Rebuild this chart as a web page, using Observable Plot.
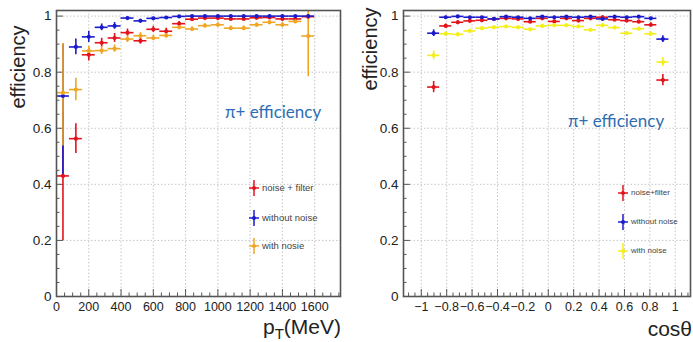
<!DOCTYPE html>
<html><head><meta charset="utf-8">
<script src="https://cdn.jsdelivr.net/npm/d3@7"></script>
<script src="https://cdn.jsdelivr.net/npm/@observablehq/plot@0.6"></script>
<style>
body{margin:0;background:#fff;}
#wrap{position:relative;width:693px;height:342px;overflow:hidden;font-family:"Liberation Sans",Arial,sans-serif;color:#222;}
.pl{position:absolute;top:0;}
.t{position:absolute;white-space:nowrap;line-height:1;}
.ann{color:#2e6db4;font-family:Lato,"Open Sans",sans-serif;}
</style></head><body>
<div id="wrap"></div>
<script>
// ---------- data: left panel (pT) ----------
const ptBins = [40,120,200,280,360,440,520,600,680,760,840,920,1000,1080,1160,1240,1320,1400,1480,1560];
const ptHalfWidth = 40;
const ptFilter    = [0.43,0.563,0.862,0.905,0.922,0.941,0.912,0.953,0.946,0.973,0.989,0.993,0.993,0.99,0.99,0.994,0.995,0.99,0.99,0.998];
const ptFilterErr = [0.23,0.053,0.022,0.016,0.016,0.013,0.012,0.011,0.011,0.008,0.007,0.006,0.006,0.006,0.006,0.005,0.005,0.005,0.006,0.006];
const ptNoNoise      = [0.715,0.89,0.926,0.96,0.965,0.993,0.983,0.992,0.995,0.999,1,1,1,1,1,1,1,1,1,1];
const ptNoNoiseErrLo = [0.285,0.028,0.02,0.012,0.012,0.004,0.006,0.004,0.003,0.002,0.002,0.002,0.002,0.002,0.002,0.002,0.002,0.002,0.002,0.002];
const ptNoNoiseErrHi = [0.185,0.028,0.02,0.012,0.012,0.004,0.006,0.004,0.003,0.002,0.002,0.002,0.002,0.002,0.002,0.002,0.002,0.002,0.002,0.002];
const ptNoise      = [0.727,0.738,0.876,0.877,0.884,0.918,0.93,0.922,0.931,0.96,0.954,0.966,0.969,0.957,0.957,0.969,0.978,0.969,0.981,0.929];
const ptNoiseErrLo = [0.19,0.04,0.016,0.014,0.013,0.012,0.011,0.01,0.01,0.008,0.008,0.007,0.007,0.008,0.008,0.007,0.007,0.008,0.008,0.145];
const ptNoiseErrHi = [0.175,0.04,0.016,0.014,0.013,0.012,0.011,0.01,0.01,0.008,0.008,0.007,0.007,0.008,0.008,0.007,0.007,0.008,0.008,0.145];
const ptTicks = [0,200,400,600,800,1000,1200,1400,1600];
const ptMinor = [50,100,150,250,300,350,450,500,550,650,700,750,850,900,950,1050,1100,1150,1250,1300,1350,1450,1500,1550,1650,1700,1750];

// ---------- data: right panel (cos theta) ----------
const cosBins = [-0.9025,-0.8075,-0.7125,-0.6175,-0.5225,-0.4275,-0.3325,-0.2375,-0.1425,-0.0475,0.0475,0.1425,0.2375,0.3325,0.4275,0.5225,0.6175,0.7125,0.8075,0.9025];
const cosHalfWidth = 0.0475;
const cosFilter  = [0.747,0.965,0.978,0.983,0.985,0.99,0.992,0.99,0.98,0.992,0.981,0.992,0.984,0.992,0.996,0.987,0.984,0.98,0.969,0.772];
const cosNoNoise = [0.939,0.996,0.999,0.996,0.996,0.99,0.998,0.996,0.992,0.998,0.996,0.998,0.996,0.998,0.99,0.998,0.996,0.998,0.992,0.918];
const cosNoise   = [0.86,0.937,0.935,0.947,0.957,0.96,0.963,0.96,0.953,0.965,0.967,0.967,0.963,0.951,0.967,0.959,0.939,0.955,0.937,0.836];
const cosFilterErr  = [0.02,0.007,0.006,0.005,0.005,0.005,0.005,0.005,0.005,0.005,0.005,0.005,0.005,0.005,0.005,0.005,0.005,0.006,0.007,0.02];
const cosNoNoiseErr = [0.012,0.004,0.003,0.003,0.003,0.003,0.003,0.003,0.003,0.003,0.003,0.003,0.003,0.003,0.003,0.003,0.003,0.003,0.004,0.012];
const cosNoiseErr   = [0.016,0.007,0.006,0.006,0.005,0.005,0.005,0.005,0.005,0.005,0.005,0.005,0.005,0.005,0.005,0.005,0.005,0.006,0.007,0.016];
const cosTicks = [-1,-0.8,-0.6,-0.4,-0.2,0,0.2,0.4,0.6,0.8,1];
const cosMinor = [-1.1,-1.05,-0.95,-0.9,-0.85,-0.75,-0.7,-0.65,-0.55,-0.5,-0.45,-0.35,-0.3,-0.25,-0.15,-0.1,-0.05,0.05,0.1,0.15,0.25,0.3,0.35,0.45,0.5,0.55,0.65,0.7,0.75,0.85,0.9,0.95,1.05,1.1];

const effTicks = [0,0.2,0.4,0.6,0.8,1];
const effMinor = [0.05,0.1,0.15,0.25,0.3,0.35,0.45,0.5,0.55,0.65,0.7,0.75,0.85,0.9,0.95];

const RED = "#e3121b", BLUE = "#1b1bcc", ORANGE = "#f0a625", YELLOW = "#f4ef1c";

function rows(xs, ys, lo, hi, hw, color) {
  return xs.map((x, i) => ({x, y: ys[i], y1: ys[i] - lo[i], y2: ys[i] + hi[i], x1: x - hw, x2: x + hw, color}));
}

function panel(opts) {
  const {width, height, ml, mr, mt, mb, xDomain, xTicks, xMinor, data} = opts;
  const ih = height - mt - mb, iw = width - ml - mr;
  return Plot.plot({
    width, height, marginLeft: ml, marginRight: mr, marginTop: mt, marginBottom: mb,
    x: {domain: xDomain},
    y: {domain: [0, 1.02]},
    color: {type: "identity"},
    style: {fontFamily: "'Liberation Sans', Arial, sans-serif", fontSize: "13px", color: "#222", background: "transparent", overflow: "visible"},
    marks: [
      Plot.gridX(xTicks, {stroke: "#b8b8b8", strokeOpacity: 1, strokeDasharray: "1.5,2", strokeWidth: 0.8}),
      Plot.gridY(effTicks, {stroke: "#b8b8b8", strokeOpacity: 1, strokeDasharray: "1.5,2", strokeWidth: 0.8}),
      Plot.tickX(xTicks, {x: d => d, insetTop: ih - 7, stroke: "#444", strokeWidth: 0.9}),
      Plot.tickX(xMinor, {x: d => d, insetTop: ih - 3.5, stroke: "#444", strokeWidth: 0.9}),
      Plot.tickY(effTicks, {y: d => d, insetRight: iw - 7, stroke: "#444", strokeWidth: 0.9}),
      Plot.tickY(effMinor, {y: d => d, insetRight: iw - 3.5, stroke: "#444", strokeWidth: 0.9}),
      Plot.ruleX(data, {x: "x", y1: "y1", y2: "y2", stroke: "color", strokeWidth: 1.6, clip: true}),
      Plot.ruleY(data, {y: "y", x1: "x1", x2: "x2", stroke: "color", strokeWidth: 1.6, clip: true}),
      Plot.dot(data, {x: "x", y: "y", fill: "color", r: 2.1, stroke: null}),
      Plot.frame({stroke: "#555", strokeWidth: 1.6}),
      Plot.axisX(xTicks, {tickSize: 0, tickPadding: 6, fontSize: 12.5, tickFormat: d => d3.format("")(d).replace("-", "\u2212"), label: null}),
      Plot.axisY(effTicks, {tickSize: 0, tickPadding: 5, fontSize: 13.5, tickFormat: d => String(d), label: null})
    ]
  });
}

const wrap = document.getElementById("wrap");

const leftData = [
  ...rows(ptBins, ptFilter, ptFilterErr, ptFilterErr, ptHalfWidth, RED),
  ...rows(ptBins, ptNoNoise, ptNoNoiseErrLo, ptNoNoiseErrHi, ptHalfWidth, BLUE),
  ...rows(ptBins, ptNoise, ptNoiseErrLo, ptNoiseErrHi, ptHalfWidth, ORANGE)
];
const left = panel({width: 345, height: 342, ml: 56, mr: 5, mt: 10, mb: 46, xDomain: [0, 1760], xTicks: ptTicks, xMinor: ptMinor, data: leftData});
left.classList.add("pl"); left.style.left = "0px";
wrap.appendChild(left);

const rightData = [
  ...rows(cosBins, cosFilter, cosFilterErr, cosFilterErr, cosHalfWidth, RED),
  ...rows(cosBins, cosNoNoise, cosNoNoiseErr, cosNoNoiseErr, cosHalfWidth, BLUE),
  ...rows(cosBins, cosNoise, cosNoiseErr, cosNoiseErr, cosHalfWidth, YELLOW)
];
const right = panel({width: 348, height: 342, ml: 58, mr: 3, mt: 10, mb: 46, xDomain: [-1.14, 1.12], xTicks: cosTicks, xMinor: cosMinor, data: rightData});
right.classList.add("pl"); right.style.left = "345px";
wrap.appendChild(right);

// ---------- text overlays ----------
function addText(html, css, cls) {
  const d = document.createElement("div");
  d.className = "t" + (cls ? " " + cls : "");
  d.innerHTML = html;
  Object.assign(d.style, css);
  wrap.appendChild(d);
  return d;
}
addText("efficiency", {left: "18px", top: "67px", fontSize: "20px", transform: "translate(-50%,-50%) rotate(-90deg)"});
addText("efficiency", {left: "370px", top: "49px", fontSize: "20px", transform: "translate(-50%,-50%) rotate(-90deg)"});
addText("p<sub style='font-size:15px;vertical-align:-5px'>T</sub>(MeV)", {right: (693 - 341) + "px", top: "316px", fontSize: "21px"});
addText("cos\u03b8", {right: "1px", top: "318px", fontSize: "21px"});
addText("\u03c0+ efficiency", {left: "225px", top: "103px", fontSize: "17px"}, "ann");
addText("\u03c0+ efficiency", {left: "568px", top: "112px", fontSize: "17px"}, "ann");

// legends
function legend(x, ys, labels, colors, fs, vh, hh) {
  ys.forEach((y, i) => {
    const s = document.createElementNS("http://www.w3.org/2000/svg", "svg");
    s.setAttribute("width", 20); s.setAttribute("height", 24);
    s.style.position = "absolute"; s.style.left = (x - 10) + "px"; s.style.top = (y - 12) + "px";
    s.innerHTML = `<line x1="10" x2="10" y1="${12 - vh}" y2="${12 + vh}" stroke="${colors[i]}" stroke-width="1.5"/>` +
      `<line x1="${10 - hh}" x2="${10 + hh}" y1="12" y2="12" stroke="${colors[i]}" stroke-width="1.5"/>` +
      `<circle cx="10" cy="12" r="2" fill="${colors[i]}"/>`;
    wrap.appendChild(s);
    addText(labels[i], {left: (x + 8) + "px", top: (y - fs * 0.55) + "px", fontSize: fs + "px", color: "#444"});
  });
}
const legendLeft = ["noise + filter", "without noise", "with nosie"];
const legendRight = ["noise+filter", "without noise", "with noise"];
legend(254, [188, 218, 246], legendLeft, [RED, BLUE, ORANGE], 9.5, 8, 5);
legend(623, [193, 222, 251], legendRight, [RED, BLUE, YELLOW], 8, 8, 5);
</script>
</body></html>
